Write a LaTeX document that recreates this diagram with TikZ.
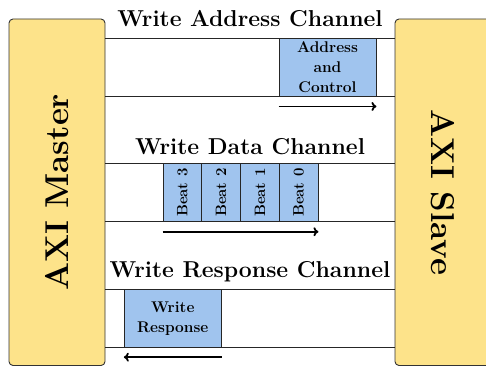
\documentclass[tikz,border=0pt]{standalone}
\usetikzlibrary{arrows.meta,calc}
\definecolor{axiyellow}{RGB}{253,227,138}
\definecolor{axiblue}{RGB}{160,196,238}
\tikzset{
  bigbox/.style={draw=black!80, line width=0.9pt, fill=axiyellow, rounded corners=4pt,
    minimum width=346.5pt, minimum height=96pt, inner sep=0pt,
    font=\fontsize{33}{40}\selectfont\bfseries},
  chanline/.style={draw=black!85, line width=0.9pt},
  pkt/.style={draw=black!85, line width=0.9pt, fill=axiblue, inner sep=0pt,
    minimum height=58pt, align=center, font=\fontsize{15.5}{20}\selectfont\bfseries},
  beat/.style={pkt, minimum width=38.75pt, font=\fontsize{15}{18}\selectfont\bfseries},
  title/.style={anchor=base, inner sep=0pt, font=\fontsize{23}{27}\selectfont\bfseries},
  flow/.style={line width=1.8pt, -{To[length=5pt,width=9pt]}}
}
\begin{document}
\begin{tikzpicture}[x=1pt,y=-1pt]
\useasboundingbox (0,0) rectangle (486,366);
% master / slave
\node[bigbox, rotate=90] (master) at (57,192.25) {AXI Master};
\node[bigbox, rotate=-90] (slave) at (443,192.25) {AXI Slave};
% channel lines
\foreach \y/\n in {38/a1,96/a2,163.7/d1,221.7/d2,289.7/r1,347.3/r2}{
  \coordinate (\n l) at (105,\y);
  \coordinate (\n r) at (395,\y);
  \draw[chanline] (\n l) -- (\n r);
}
% titles
\node[title] (tA) at (250,26.7) {Write Address Channel};
\node[title] (tD) at (250,154.3) {Write Data Channel};
\node[title] (tR) at (250,277.3) {Write Response Channel};
% address
\node[pkt, minimum width=97pt] (addr) at (327.5,67) {Address\\and\\Control};
% data beats
\node[beat] (b3) at (182.4,192.7) {\rotatebox{90}{Beat 3}};
\node[beat] (b2) at (221.1,192.7) {\rotatebox{90}{Beat 2}};
\node[beat] (b1) at (259.9,192.7) {\rotatebox{90}{Beat 1}};
\node[beat] (b0) at (298.6,192.7) {\rotatebox{90}{Beat 0}};
% response
\node[pkt, minimum width=97pt, minimum height=57.6pt] (resp) at (172.8,318.5) {Write\\Response};
% arrows
\draw[flow] ($(addr.south west)+(0,10)$) -- ($(addr.south east)+(0,10)$);
\draw[flow] ($(b3.south west)+(0,9.6)$) -- ($(b0.south east)+(0,9.6)$);
\draw[flow] ($(resp.south east)+(0,9.4)$) -- ($(resp.south west)+(0,9.4)$);
\end{tikzpicture}
\end{document}
